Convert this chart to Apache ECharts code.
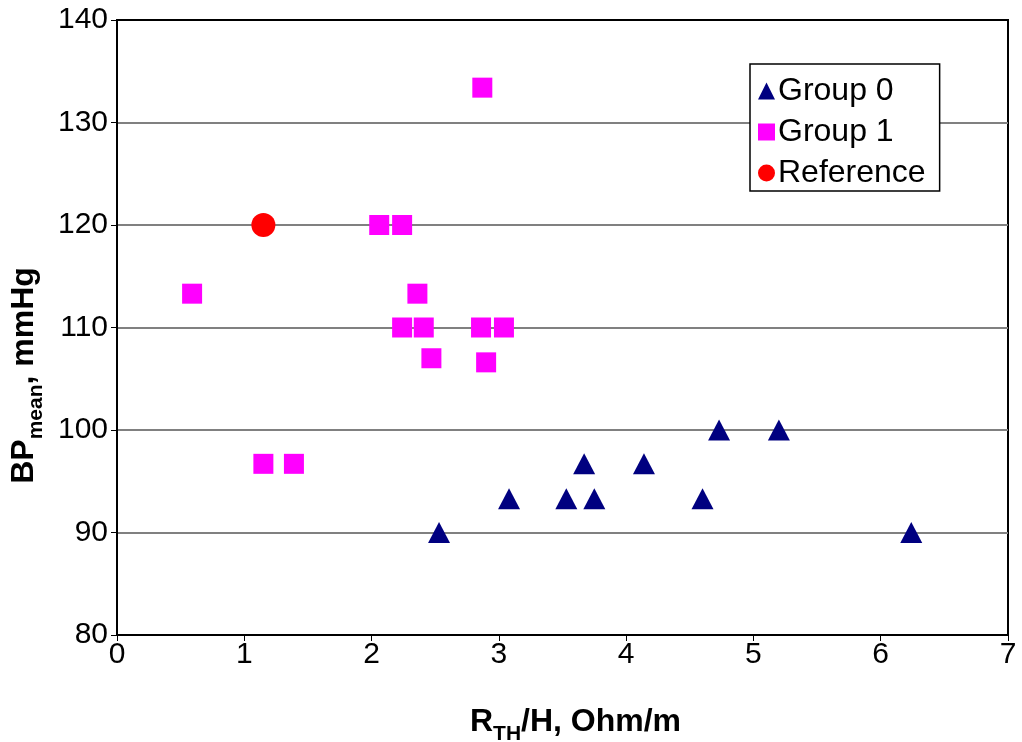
<!DOCTYPE html>
<html>
<head>
<meta charset="utf-8">
<script src="https://cdn.jsdelivr.net/npm/echarts@6/dist/echarts.min.js"></script>
<style>
html,body{margin:0;padding:0;background:#fff;}
#chart{width:1022px;height:742px;}
</style>
</head>
<body>
<div id="chart"></div>
<script>
const group0X = [2.53, 3.08, 3.53, 3.75, 3.67, 4.14, 4.60, 4.73, 5.20, 6.24];
const group0Y = [90, 93.3, 93.3, 93.3, 96.7, 96.7, 93.3, 100, 100, 90];
const group1X = [0.59, 1.15, 1.39, 2.06, 2.24, 2.36, 2.24, 2.41, 2.47, 2.87, 2.86, 3.04, 2.90];
const group1Y = [113.3, 96.7, 96.7, 120, 120, 113.3, 110, 110, 107.0, 133.4, 110, 110, 106.6];
const refX = [1.15];
const refY = [120];
const seriesNames = ['Group 0', 'Group 1', 'Reference'];

const zip = (xs, ys) => xs.map((x, i) => [x, ys[i]]);
const FONT = '"Liberation Sans", Arial, sans-serif';
const titleRich = {
  b: { fontFamily: FONT, fontSize: 32, fontWeight: 'bold', color: '#000', lineHeight: 36, verticalAlign: 'bottom' },
  s: { fontFamily: FONT, fontSize: 21, fontWeight: 'bold', color: '#000', lineHeight: 28, verticalAlign: 'bottom', padding: [0, 0, -7, 0] }
};

const chart = echarts.init(document.getElementById('chart'));
chart.setOption({
  animation: false,
  backgroundColor: '#fff',
  grid: {
    left: 117, right: 14, top: 20, bottom: 107,
    containLabel: false, outerBoundsMode: 'none',
    show: true, borderColor: '#000', borderWidth: 2, backgroundColor: 'transparent'
  },
  legend: {
    data: seriesNames,
    orient: 'vertical',
    left: 750, top: 64,
    padding: [9, 14, 0, 8],
    backgroundColor: '#fff',
    borderColor: '#000',
    borderWidth: 1.5,
    itemWidth: 17, itemHeight: 17,
    itemGap: 5,
    textStyle: { fontFamily: FONT, fontSize: 32, color: '#000', lineHeight: 36, padding: [0, 0, 0, -2] }
  },
  xAxis: {
    type: 'value', min: 0, max: 7, interval: 1,
    axisLine: { show: true, lineStyle: { color: '#000', width: 2 } },
    axisTick: { show: true, inside: false, length: 6, lineStyle: { color: '#000', width: 1 } },
    splitLine: { show: false },
    axisLabel: { fontFamily: FONT, fontSize: 30, color: '#000', margin: 5 },
    name: '{b|R}{s|TH}{b|/H, Ohm/m}',
    nameLocation: 'middle',
    nameGap: 67,
    nameTextStyle: { padding: [0, 0, 0, 26], rich: titleRich }
  },
  yAxis: {
    type: 'value', min: 80, max: 140, interval: 10,
    axisLine: { show: true, onZero: false, lineStyle: { color: '#000', width: 2 } },
    axisTick: { show: true, inside: false, length: 6, lineStyle: { color: '#000', width: 1 } },
    splitLine: { show: true, showMinLine: false, showMaxLine: false, lineStyle: { color: '#808080', width: 2 } },
    axisLabel: { fontFamily: FONT, fontSize: 30, color: '#000', margin: 9 },
    name: '{b|BP}{s|mean}{b|, mmHg}',
    nameLocation: 'middle',
    nameRotate: 90,
    nameGap: 64,
    nameTextStyle: { padding: [0, 96, 0, 0], rich: titleRich }
  },
  series: [
    {
      name: seriesNames[0], type: 'scatter', symbol: 'triangle', symbolSize: [22, 21],
      itemStyle: { color: '#000080', opacity: 1 }, data: zip(group0X, group0Y)
    },
    {
      name: seriesNames[1], type: 'scatter', symbol: 'rect', symbolSize: 20,
      itemStyle: { color: '#FF00FF', opacity: 1 }, data: zip(group1X, group1Y)
    },
    {
      name: seriesNames[2], type: 'scatter', symbol: 'circle', symbolSize: 24,
      itemStyle: { color: '#FF0000', opacity: 1 }, data: zip(refX, refY)
    }
  ]
});
</script>
</body>
</html>
